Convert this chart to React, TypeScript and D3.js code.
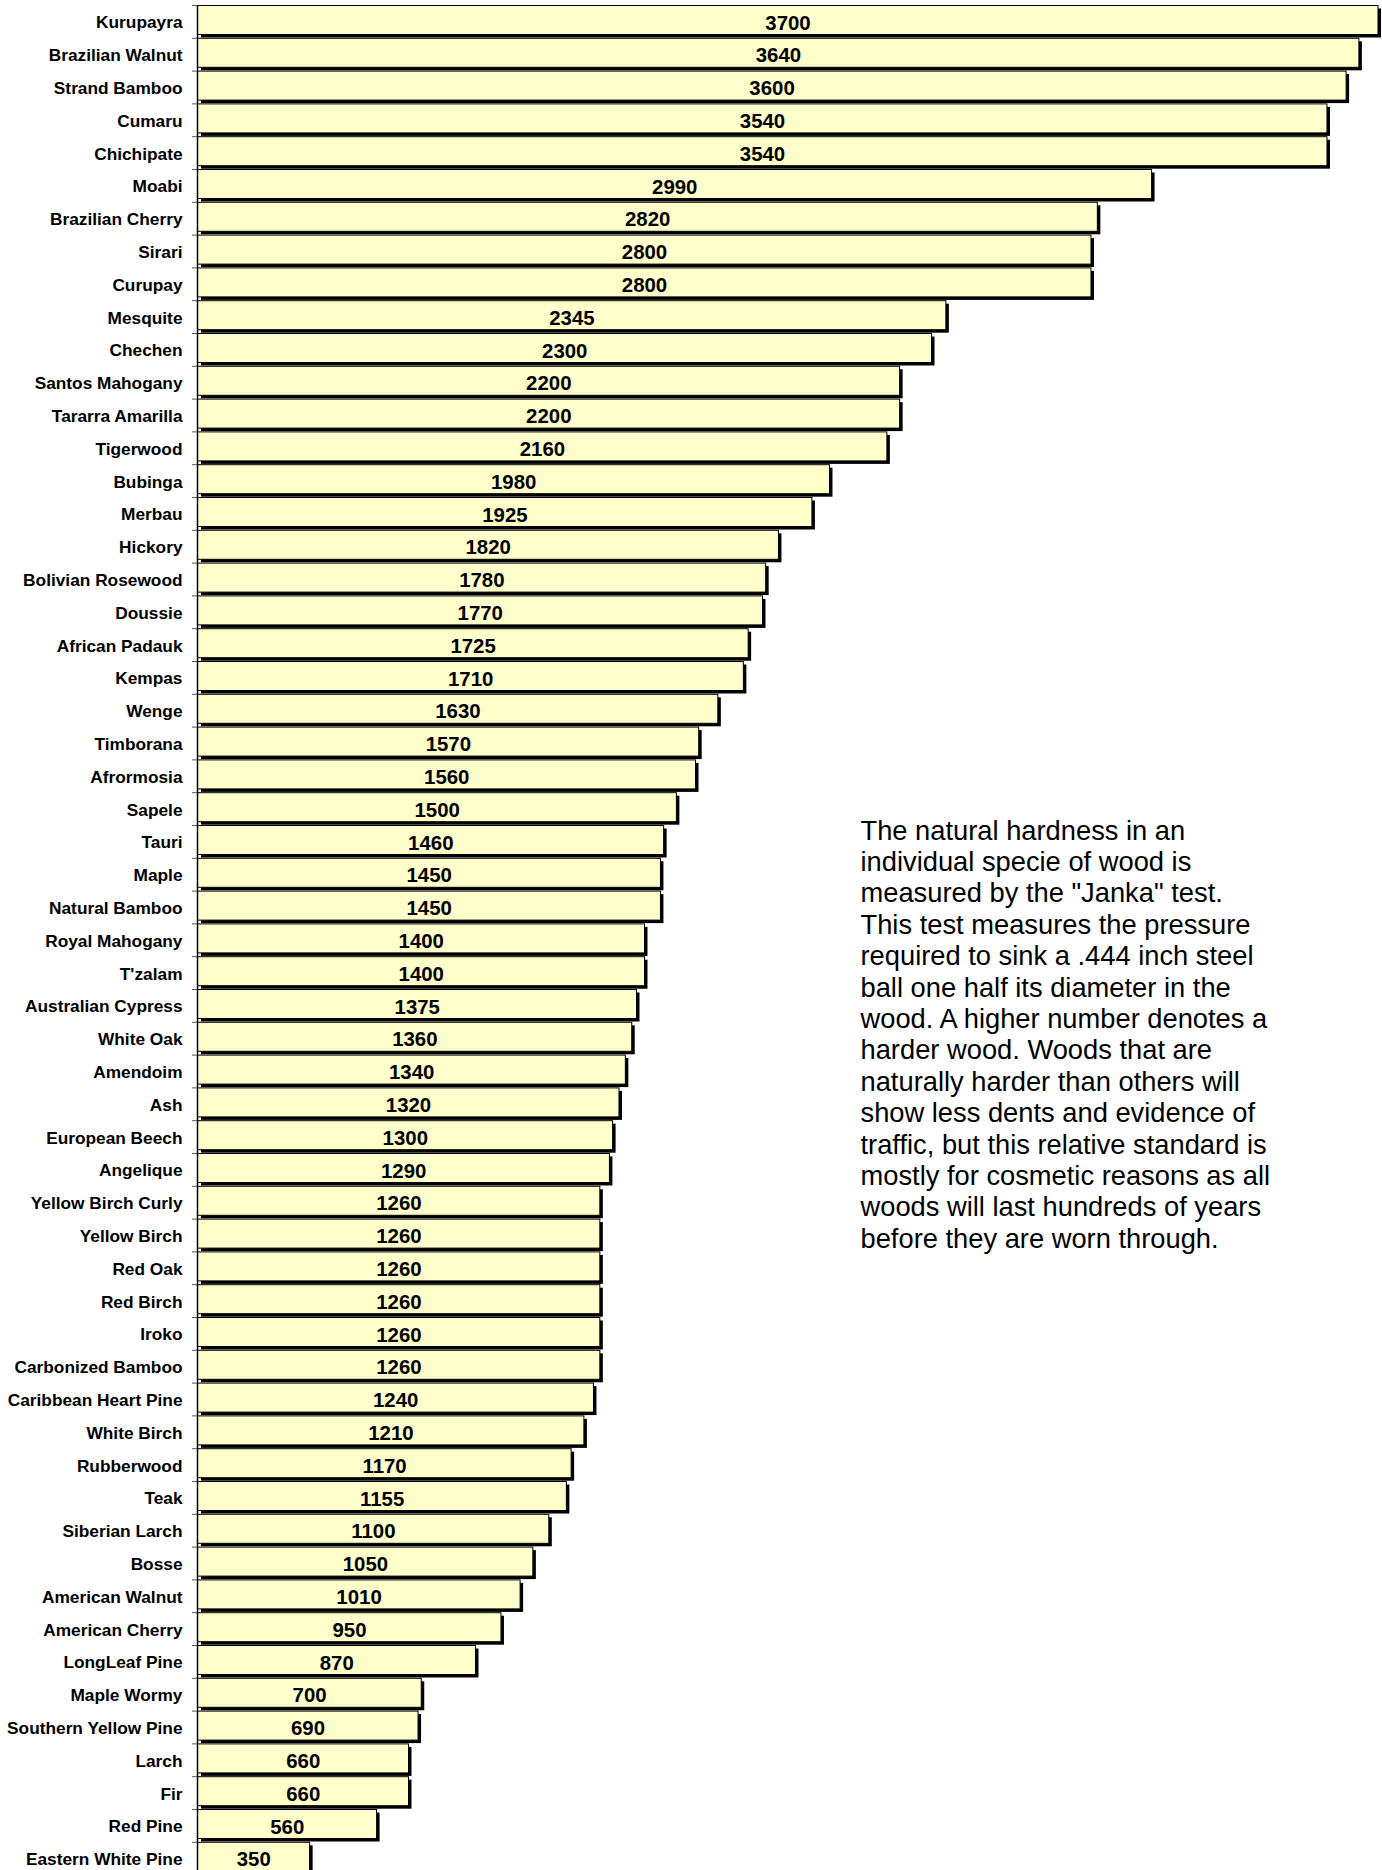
import React from "react";
import * as d3 from "d3";

// wood species, hardest first
const species = [
  "Kurupayra", "Brazilian Walnut", "Strand Bamboo", "Cumaru", "Chichipate",
  "Moabi", "Brazilian Cherry", "Sirari", "Curupay", "Mesquite", "Chechen",
  "Santos Mahogany", "Tararra Amarilla", "Tigerwood", "Bubinga", "Merbau",
  "Hickory", "Bolivian Rosewood", "Doussie", "African Padauk", "Kempas",
  "Wenge", "Timborana", "Afrormosia", "Sapele", "Tauri", "Maple",
  "Natural Bamboo", "Royal Mahogany", "T'zalam", "Australian Cypress",
  "White Oak", "Amendoim", "Ash", "European Beech", "Angelique",
  "Yellow Birch Curly", "Yellow Birch", "Red Oak", "Red Birch", "Iroko",
  "Carbonized Bamboo", "Caribbean Heart Pine", "White Birch", "Rubberwood",
  "Teak", "Siberian Larch", "Bosse", "American Walnut", "American Cherry",
  "LongLeaf Pine", "Maple Wormy", "Southern Yellow Pine", "Larch", "Fir",
  "Red Pine", "Eastern White Pine",
];

// janka hardness
const hardness = [
  3700, 3640, 3600, 3540, 3540, 2990, 2820, 2800, 2800, 2345, 2300, 2200,
  2200, 2160, 1980, 1925, 1820, 1780, 1770, 1725, 1710, 1630, 1570, 1560,
  1500, 1460, 1450, 1450, 1400, 1400, 1375, 1360, 1340, 1320, 1300, 1290,
  1260, 1260, 1260, 1260, 1260, 1260, 1240, 1210, 1170, 1155, 1100, 1050,
  1010, 950, 870, 700, 690, 660, 660, 560, 350,
];

const note = [
  "The natural hardness in an",
  "individual specie of wood is",
  'measured by the "Janka" test.',
  "This test measures the pressure",
  "required to sink a .444 inch steel",
  "ball one half its diameter in the",
  "wood. A higher number denotes a",
  "harder wood. Woods that are",
  "naturally harder than others will",
  "show less dents and evidence of",
  "traffic, but this relative standard is",
  "mostly for cosmetic reasons as all",
  "woods will last hundreds of years",
  "before they are worn through.",
];

const W = 1382;
const H = 1870;
const font = "'Liberation Sans', Arial, sans-serif";

const App = () => {
  const x = d3.scaleLinear().domain([0, 3700]).range([198, 1378]);
  const y = d3
    .scaleBand()
    .domain(species)
    .range([5, 5 + species.length * 32.8])
    .padding(0);

  const bw = y.bandwidth();
  const barH = bw - 3.8;
  const ticks = species.map((s) => y(s));

  return (
    <div style={{ position: "absolute", left: 0, top: 0 }}>
      <svg width={W} height={H} style={{ display: "block" }}>
        <rect width={W} height={H} fill="#fff" />

        {/* bars with drop shadow */}
        {species.map((s, i) => {
          const y0 = y(s);
          const x1 = x(hardness[i]);
          return (
            <g key={s}>
              <rect
                x={x(0) + 3}
                y={y0 + 3.5}
                width={x1 - x(0)}
                height={barH}
                fill="#000"
              />
              <rect
                x={x(0) - 0.5}
                y={y0 + 0.5}
                width={x1 - x(0) + 0.5}
                height={barH}
                fill="#FFFFCC"
                stroke="#000"
                strokeWidth={1}
              />
            </g>
          );
        })}

        {/* axis */}
        <line x1={197.5} x2={197.5} y1={5} y2={H} stroke="#000" strokeWidth={1.5} />
        {ticks.map((t, i) => (
          <line key={i} x1={192} x2={197} y1={t + 0.5} y2={t + 0.5} stroke="#555" />
        ))}

        {/* category labels */}
        {species.map((s) => (
          <text
            key={"l" + s}
            x={182.5}
            y={y(s) + bw / 2 + 0.36 * 17.3 + 0.8}
            textAnchor="end"
            fontFamily={font}
            fontWeight="bold"
            fontSize={17.3}
            fill="#000"
          >
            {s}
          </text>
        ))}

        {/* value labels */}
        {species.map((s, i) => (
          <text
            key={"v" + s}
            x={(x(0) + x(hardness[i])) / 2}
            y={y(s) + bw / 2 + 0.36 * 20.4 + 0.8}
            textAnchor="middle"
            fontFamily={font}
            fontWeight="bold"
            fontSize={20.4}
            fill="#000"
          >
            {hardness[i]}
          </text>
        ))}

        {/* description */}
        <text x={860.5} y={839.5} fontFamily={font} fontSize={27.3} fill="#000">
          {note.map((line, i) => (
            <tspan key={i} x={860.5} y={839.5 + i * 31.4}>
              {line}
            </tspan>
          ))}
        </text>
      </svg>
    </div>
  );
};

export default App;
